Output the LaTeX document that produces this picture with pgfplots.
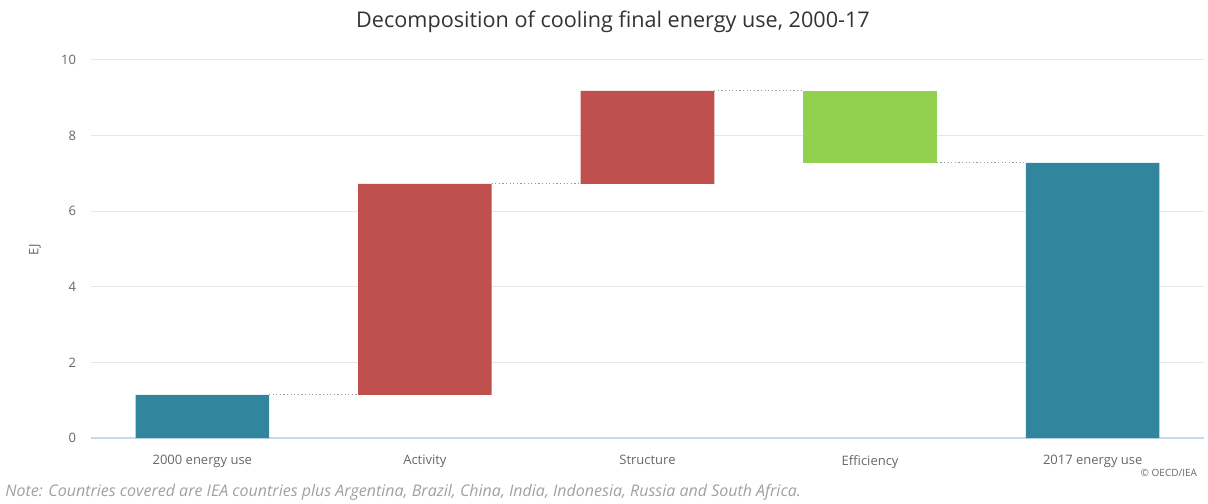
\documentclass[border=0pt]{standalone}
\usepackage{pgfplots}
\pgfplotsset{compat=1.18}
\usepackage{fontspec}
\setmainfont{Open Sans}
\definecolor{teal}{HTML}{31859C}
\definecolor{bred}{HTML}{C0504D}
\definecolor{bgreen}{HTML}{92D050}
\definecolor{gridc}{HTML}{E6E6E6}
\definecolor{axc}{HTML}{CCD6EB}
\definecolor{tickc}{HTML}{666666}
\definecolor{titlec}{HTML}{333333}
\definecolor{notec}{HTML}{A0A0A0}
\definecolor{dotc}{HTML}{999999}
\begin{document}
\begin{tikzpicture}
\path[use as bounding box] (0,0) rectangle (604pt,251.5pt);
\begin{axis}[
  at={(45.5pt,32.5pt)}, anchor=south west,
  width=556.5pt, height=189pt, scale only axis,
  ybar stacked, bar width=0.6,
  xmin=-0.5, xmax=4.5, ymin=0, ymax=10,
  xtick={0,1,2,3,4},
  xticklabels={2000 energy use,Activity,Structure,Efficiency,2017 energy use},
  ytick={0,2,4,6,8,10},
  ymajorgrids, grid style={gridc, line width=0.5pt},
  axis x line*=bottom, axis y line*=left,
  x axis line style={draw=axc, line width=0.6pt},
  y axis line style={draw=none},
  major tick length=0pt,
  tick style={draw=none},
  xticklabel style={font=\fontsize{6.5}{8}\selectfont, text=tickc, yshift=-5pt},
  yticklabel style={font=\fontsize{6.5}{8}\selectfont, text=tickc, xshift=-4pt},
  /pgf/number format/assume math mode=true,
  clip=false,
]
\addplot[draw=none, fill=none] coordinates {(0,0) (1,1.14) (2,6.72) (3,7.28) (4,0)};
\addplot[draw=none, fill=teal] coordinates {(0,1.14) (1,0) (2,0) (3,0) (4,7.28)};
\addplot[draw=none, fill=bred] coordinates {(0,0) (1,5.58) (2,2.46) (3,0) (4,0)};
\addplot[draw=none, fill=bgreen] coordinates {(0,0) (1,0) (2,0) (3,1.90) (4,0)};
\end{axis}
\begin{axis}[
  at={(45.5pt,32.5pt)}, anchor=south west,
  width=556.5pt, height=189pt, scale only axis,
  xmin=-0.5, xmax=4.5, ymin=0, ymax=10,
  hide axis,
]
\addplot[dotc, dash pattern=on 0.6pt off 1.2pt, line width=0.5pt] coordinates {(0.3,1.14) (0.7,1.14)};
\addplot[dotc, dash pattern=on 0.6pt off 1.2pt, line width=0.5pt] coordinates {(1.3,6.72) (1.7,6.72)};
\addplot[dotc, dash pattern=on 0.6pt off 1.2pt, line width=0.5pt] coordinates {(2.3,9.18) (2.7,9.18)};
\addplot[dotc, dash pattern=on 0.6pt off 1.2pt, line width=0.5pt] coordinates {(3.3,7.28) (3.7,7.28)};
\end{axis}
\node[font=\fontsize{6.5}{8}\selectfont, text=tickc, rotate=90] at (17.5pt,126.5pt) {EJ};
\node[font=\fontsize{10.8}{13}\selectfont, text=titlec] at (306.5pt,240.5pt) {Decomposition of cooling final energy use, 2000-17};
\node[font=\fontsize{5}{6}\selectfont, text=tickc, anchor=east] at (602pt,15pt) {© OECD/IEA};
\node[font=\itshape\fontsize{8}{9}\selectfont, text=notec, anchor=west, inner sep=0pt] at (2.5pt,5.5pt) {Note: Countries covered are IEA countries plus Argentina, Brazil, China, India, Indonesia, Russia and South Africa.};
\end{tikzpicture}
\end{document}
